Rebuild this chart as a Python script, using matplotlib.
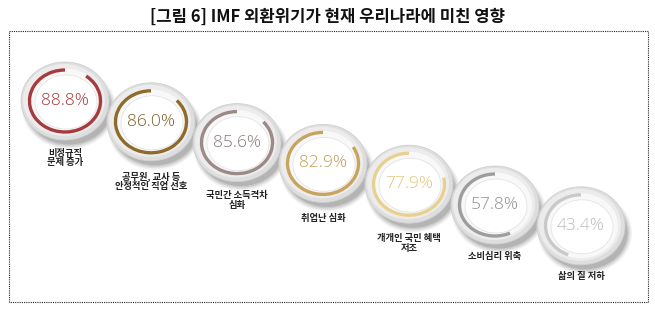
import matplotlib
matplotlib.use("Agg")
import matplotlib.pyplot as plt
from matplotlib.patches import Ellipse, Arc, Rectangle

plt.rcParams['font.family'] = ['Noto Sans CJK KR', 'DejaVu Sans']

title = "[그림 6] IMF 외환위기가 현재 우리나라에 미친 영향"
labels = ["비정규직\n문제 증가", "공무원, 교사 등\n안정적인 직업 선호", "국민간 소득격차\n심화",
          "취업난 심화", "개개인 국민 혜택\n저조", "소비심리 위축", "삶의 질 저하"]
values = [88.8, 86.0, 85.6, 82.9, 77.9, 57.8, 43.4]
ring_colors = ["#a63a3c", "#8e6b2c", "#9b8a87", "#c9a45e", "#e8d18f", "#9d9d9d", "#c9c9c9"]
text_colors = ["#a0383c", "#7d5f28", "#8a7a77", "#c29c55", "#e0c682", "#8f8f8f", "#bcbcbc"]

# layout (pixel space)
x0, dx = 65, 86
y0, dy = 101, 20.8
label_dy = [57, 59, 58, 55, 59, 51, 51]

fig = plt.figure(figsize=(6.55, 3.24), dpi=100)
ax = fig.add_axes([0, 0, 1, 1])
ax.set_xlim(0, 655)
ax.set_ylim(324, 0)
ax.axis('off')

ax.text(327, 17, title, ha='center', va='center', fontsize=12, fontweight='bold', color='#111111')
ax.add_patch(Rectangle((9, 31), 639, 271, fill=False, edgecolor='#222222', lw=0.8,
                       linestyle=(0, (1, 1))))

for i, (lab, v) in enumerate(zip(labels, values)):
    cx = x0 + dx * i
    cy = y0 + dy * i
    z = 2 + i * 10
    # soft shadow
    for k, a in enumerate([0.05, 0.07, 0.09, 0.11]):
        ax.add_patch(Ellipse((cx + 4, cy + 7), 94 - 3 * k, 82 - 3 * k, facecolor='#000000',
                             edgecolor='none', alpha=a, zorder=z))
    ax.add_patch(Ellipse((cx, cy), 88, 78, facecolor='#dedede', edgecolor='#d0d0d0', lw=0.6, zorder=z + 1))
    ax.add_patch(Ellipse((cx - 1, cy - 1), 82, 72, facecolor='#ececec', edgecolor='none', zorder=z + 2))
    ax.add_patch(Ellipse((cx, cy), 74, 65, facecolor='#f8f8f8', edgecolor='none', zorder=z + 3))
    ax.add_patch(Ellipse((cx + 1, cy + 1), 62, 54, facecolor='#ffffff', edgecolor='#e4e4e4', lw=0.6, zorder=z + 4))
    ax.add_patch(Arc((cx, cy), 71, 62, theta1=-90 - 360 * v / 100, theta2=-90,
                     color=ring_colors[i], lw=2.4, zorder=z + 5))
    ax.text(cx, cy, f"{v:.1f}%", ha='center', va='center', fontsize=12.5, family='Open Sans',
            fontweight='light', color=text_colors[i], zorder=z + 6)
    ax.text(cx, cy + label_dy[i], lab, ha='center', va='center', fontsize=6.7, fontweight='bold',
            color='#222222', linespacing=1.1, zorder=80)

fig.savefig("out.png", dpi=100)
